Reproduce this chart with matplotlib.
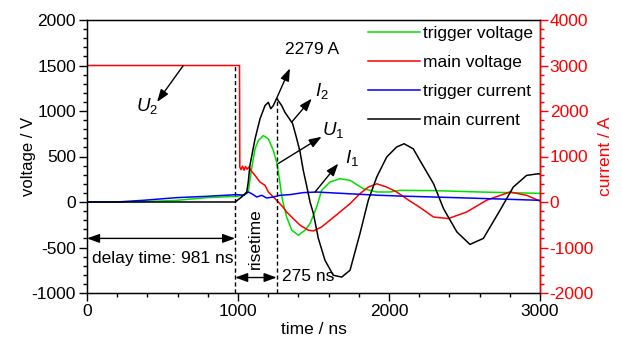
import matplotlib
matplotlib.use("Agg")
import matplotlib.pyplot as plt
from matplotlib.ticker import MultipleLocator

plt.rcParams["font.family"] = ["Liberation Sans", "DejaVu Sans"]
plt.rcParams["mathtext.fontset"] = "custom"
plt.rcParams["mathtext.rm"] = "Liberation Sans"
plt.rcParams["mathtext.it"] = "Liberation Sans:italic"
plt.rcParams["axes.unicode_minus"] = False

# trigger voltage (V)
t_tv = [0, 200, 400, 594, 793, 991, 1035, 1068, 1090, 1113, 1135, 1168, 1201,
        1234, 1256, 1274, 1289, 1300, 1322, 1356, 1400, 1444, 1477, 1521, 1554,
        1609, 1675, 1742, 1830, 1919, 2007, 2073, 2300, 2600, 3000]
u_tv = [0, 0, 5, 18, 48, 62, 73, 110, 366, 585, 676, 730, 694,
        566, 438, 256, 73, -18, -164, -310, -365, -310, -237, -55, 128,
        219, 256, 238, 146, 110, 110, 128, 125, 110, 95]

# main voltage (V)
t_mv = [0, 1010, 1012, 1020, 1030, 1040, 1050, 1060, 1072, 1084, 1113, 1146,
        1179, 1201, 1234, 1267, 1300, 1322, 1366, 1411, 1466, 1499, 1554, 1609,
        1675, 1742, 1808, 1863, 1919, 1985, 2051, 2130, 2205, 2295, 2393, 2514,
        2647, 2801, 2912, 3000]
u_mv = [1500, 1500, 385, 355, 395, 350, 390, 360, 385, 350, 292, 219,
        183, 110, 55, 0, -60, -110, -182, -255, -310, -318, -274, -200,
        -110, -18, 92, 164, 200, 164, 110, 20, -60, -165, -182, -110,
        20, 110, 73, 10]

# trigger current (A)
t_tc = [0, 196, 373, 594, 793, 991, 1040, 1068, 1090, 1124, 1157, 1190, 1234,
        1278, 1344, 1432, 1521, 1720, 1940, 2073, 2500, 3000]
i_tc = [0, 0, 37, 96, 125, 162, 150, 220, 184, 110, 147, 88, 110,
        147, 162, 206, 219, 184, 147, 131, 90, 37]

# main current (A)
t_mc = [0, 981, 1024, 1058, 1068, 1079, 1113, 1146, 1179, 1201, 1217, 1234,
        1256, 1289, 1311, 1340, 1362, 1389, 1411, 1432, 1455, 1477, 1499, 1532,
        1576, 1631, 1687, 1742, 1808, 1863, 1919, 1985, 2051, 2100, 2161, 2205,
        2295, 2361, 2449, 2536, 2625, 2735, 2823, 2911, 2989, 3000]
i_mc = [0, 0, 110, 220, 440, 806, 1390, 1830, 2120, 2190, 2050, 2120,
        2279, 2120, 1970, 1830, 1720, 1390, 1100, 700, 350, 0, -250, -800,
        -1280, -1610, -1650, -1500, -690, 40, 550, 990, 1210, 1280, 1168, 912,
        402, -146, -656, -932, -800, -182, 328, 584, 621, 610]

delay = 981
rise = 275
i_peak = 2279
u_main = 1500

labels = ["trigger voltage", "main voltage", "trigger current", "main current"]

fig = plt.figure(figsize=(6.22, 3.4), dpi=100)
ax = fig.add_axes([87 / 622, 1 - 293 / 340, 453 / 622, 273 / 340])
ax2 = ax.twinx()

l_tv, = ax.plot(t_tv, u_tv, color="#00e000", lw=1.1)
l_mv, = ax.plot(t_mv, u_mv, color="#ff0000", lw=1.1)
l_tc, = ax2.plot(t_tc, i_tc, color="#0000ff", lw=1.1)
l_mc, = ax2.plot(t_mc, i_mc, color="black", lw=1.1)

ax.set_xlim(0, 3000)
ax.set_ylim(-1000, 2000)
ax2.set_ylim(-2000, 4000)

ax.xaxis.set_major_locator(MultipleLocator(1000))
ax.xaxis.set_minor_locator(MultipleLocator(200))
ax.yaxis.set_major_locator(MultipleLocator(500))
ax.yaxis.set_minor_locator(MultipleLocator(100))
ax2.yaxis.set_major_locator(MultipleLocator(1000))
ax2.yaxis.set_minor_locator(MultipleLocator(200))

ax.tick_params(which="major", direction="out", length=6, width=1, labelsize=12.5, pad=2)
ax.tick_params(which="minor", direction="out", length=3, width=1)
ax2.tick_params(which="major", direction="out", length=6, width=1, labelsize=12.5,
                pad=1, colors="red")
ax2.tick_params(which="minor", direction="out", length=3, width=1, colors="red")
ax2.spines["right"].set_color("red")
for sp in ax.spines.values():
    sp.set_linewidth(1)
ax2.spines["right"].set_linewidth(1)

ax.set_xlabel("time / ns", fontsize=12.5, labelpad=2)
ax.set_ylabel("voltage / V", fontsize=12, labelpad=-3)
ax2.set_ylabel("current / A", fontsize=12.5, color="red", labelpad=3)

# dashed markers for delay and rise time
ax.plot([delay, delay], [-1000, u_main], ls=(0, (3, 2)), color="black", lw=1)
ax2.plot([delay + rise, delay + rise], [-2000, i_peak], ls=(0, (3, 2)),
         color="black", lw=1)

head = "-|>,head_length=0.5,head_width=0.18"
both = "<|-|>,head_length=0.5,head_width=0.18"
akw = dict(color="black", lw=1, mutation_scale=15, shrinkA=0, shrinkB=0)
fs = 12.5

ax.annotate("", xy=(464, 1099), xytext=(636, 1496), arrowprops=dict(arrowstyle=head, **akw))
ax.text(397, 1055, "$U_2$", fontsize=fs + 1, ha="center", va="center")

ax2.annotate("", xy=(1344, 2938), xytext=(delay + rise, i_peak),
             arrowprops=dict(arrowstyle=head, **akw))
ax2.text(1490, 3356, f"{i_peak} A", fontsize=fs, ha="center", va="center")

ax2.annotate("", xy=(1488, 2272), xytext=(1356, 1758), arrowprops=dict(arrowstyle=head, **akw))
ax2.text(1553, 2433, "$I_2$", fontsize=fs + 1, ha="center", va="center")

ax.annotate("", xy=(1554, 717), xytext=(1267, 423), arrowprops=dict(arrowstyle=head, **akw))
ax.text(1632, 790, "$U_1$", fontsize=fs + 1, ha="center", va="center")

ax2.annotate("", xy=(1664, 844), xytext=(1510, 220), arrowprops=dict(arrowstyle=head, **akw))
ax2.text(1758, 971, "$I_1$", fontsize=fs + 1, ha="center", va="center")

ax.annotate("", xy=(0, -400), xytext=(delay, -400), arrowprops=dict(arrowstyle=both, **akw))
ax.text(33, -622, f"delay time: {delay} ns", fontsize=fs, ha="left", va="center")

ax.annotate("", xy=(delay, -830), xytext=(delay + rise, -830),
            arrowprops=dict(arrowstyle=both, **akw))
ax.text(1113, -400, "risetime", fontsize=fs, ha="center", va="center", rotation=90)
ax.text(1291, -820, f"{rise} ns", fontsize=fs, ha="left", va="center")

ax2.legend([l_tv, l_mv, l_tc, l_mc], labels, loc="upper left",
           bbox_to_anchor=(368 / 622, 1 - 26 / 340), bbox_transform=fig.transFigure,
           frameon=False, fontsize=fs, handlelength=3.0, handletextpad=0.17,
           labelspacing=0.8, borderpad=0, borderaxespad=0)

fig.savefig("out.png", dpi=100)
